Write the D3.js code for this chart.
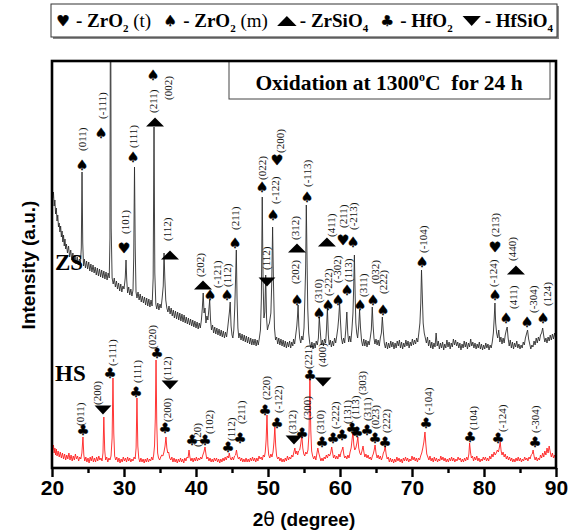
<!DOCTYPE html>
<html>
<head>
<meta charset="utf-8">
<script src="https://cdn.jsdelivr.net/npm/d3@7"></script>
<style>
body { margin: 0; background: #fff; }
</style>
</head>
<body>
<div id="chart"></div>
<script>
// frame size
const WIDTH = 579;
const HEIGHT = 532;
const MARGINS = {left: 52, right: 23, top: 61, bottom: 64};

// axis ticks
const MAJOR_TICKS = [20, 30, 40, 50, 60, 70, 80, 90];
const MINOR_TICKS = [25, 35, 45, 55, 65, 75, 85];

// ZS pattern (2theta, intensity a.u.)
const ZS_DATA = [[20.0,2830],[20.1,2700],[20.2,2760],[20.3,2620],[20.4,2680],[20.5,2540],[20.6,2600],[20.7,2470],[20.8,2530],[20.9,2410],[21.0,2450],[21.1,2360],[21.2,2420],[21.3,2310],[21.4,2370],[21.5,2260],[21.6,2330],[21.7,2220],[21.8,2290],[21.9,2190],[22.0,2240],[22.15,2150],[22.3,2220],[22.45,2110],[22.6,2180],[22.75,2080],[22.9,2150],[23.05,2060],[23.2,2130],[23.35,2040],[23.5,2110],[23.65,2030],[23.8,2090],[23.95,2050],[24.07,2200],[24.17,2960],[24.27,2250],[24.38,2020],[24.5,2090],[24.65,2000],[24.8,2070],[24.95,1990],[25.1,2060],[25.25,1970],[25.4,2040],[25.55,1960],[25.7,2030],[25.85,1950],[26.0,2010],[26.15,1930],[26.3,2000],[26.45,1920],[26.6,1990],[26.75,1910],[26.9,1980],[27.05,1900],[27.2,1970],[27.35,1890],[27.5,1960],[27.65,1880],[27.8,1950],[27.95,1900],[28.05,2300],[28.13,5600],[28.22,2400],[28.35,1900],[28.5,1840],[28.65,1900],[28.8,1810],[28.95,1870],[29.1,1790],[29.25,1850],[29.4,1770],[29.55,1840],[29.7,1760],[29.85,1820],[30.0,1790],[30.17,1900],[30.28,2080],[30.38,1880],[30.5,1750],[30.65,1810],[30.8,1730],[30.95,1790],[31.1,1720],[31.25,1780],[31.35,2100],[31.46,3010],[31.56,2200],[31.67,1760],[31.8,1700],[31.95,1760],[32.1,1680],[32.25,1740],[32.4,1660],[32.55,1720],[32.7,1650],[32.85,1710],[33.0,1630],[33.15,1700],[33.3,1620],[33.45,1690],[33.6,1610],[33.75,1680],[33.9,1620],[34.05,1900],[34.17,3410],[34.28,1950],[34.42,1640],[34.55,1590],[34.7,1650],[34.85,1580],[35.0,1640],[35.15,1600],[35.3,1700],[35.45,1820],[35.56,2150],[35.67,1900],[35.8,1680],[35.95,1600],[36.1,1560],[36.25,1620],[36.4,1540],[36.55,1600],[36.7,1520],[36.85,1580],[37.0,1500],[37.15,1570],[37.3,1490],[37.45,1560],[37.6,1480],[37.75,1550],[37.9,1470],[38.05,1540],[38.2,1460],[38.35,1530],[38.5,1450],[38.65,1510],[38.8,1440],[38.95,1500],[39.1,1430],[39.25,1490],[39.4,1420],[39.55,1480],[39.7,1410],[39.85,1470],[40.0,1400],[40.15,1460],[40.3,1390],[40.45,1450],[40.6,1400],[40.75,1480],[40.88,1600],[41.0,1750],[41.12,1550],[41.25,1600],[41.38,1450],[41.52,1520],[41.65,1480],[41.78,1580],[41.9,1680],[42.02,1480],[42.15,1380],[42.3,1430],[42.45,1350],[42.6,1410],[42.75,1340],[42.9,1400],[43.05,1330],[43.2,1390],[43.35,1320],[43.5,1380],[43.65,1310],[43.8,1370],[43.95,1300],[44.1,1360],[44.25,1310],[44.4,1400],[44.52,1480],[44.64,1560],[44.75,1660],[44.87,1420],[45.0,1330],[45.12,1300],[45.25,1380],[45.38,1600],[45.5,1900],[45.6,2180],[45.7,1700],[45.82,1400],[45.95,1300],[46.1,1350],[46.25,1280],[46.4,1340],[46.55,1270],[46.7,1330],[46.85,1260],[47.0,1320],[47.15,1250],[47.3,1310],[47.45,1240],[47.6,1300],[47.75,1230],[47.9,1290],[48.05,1230],[48.2,1290],[48.35,1220],[48.5,1280],[48.65,1230],[48.8,1300],[48.95,1380],[49.08,1700],[49.2,2710],[49.32,1850],[49.44,1500],[49.56,1560],[49.68,1930],[49.8,1500],[49.92,1380],[50.05,1420],[50.2,1450],[50.4,1550],[50.52,1850],[50.64,2410],[50.76,1850],[50.9,1400],[51.05,1280],[51.2,1310],[51.35,1240],[51.5,1300],[51.65,1230],[51.8,1290],[51.95,1220],[52.1,1280],[52.25,1210],[52.4,1270],[52.55,1200],[52.7,1260],[52.85,1210],[53.0,1270],[53.15,1200],[53.3,1260],[53.45,1220],[53.55,1290],[53.7,1240],[53.85,1330],[54.0,1420],[54.1,1520],[54.18,1630],[54.28,1420],[54.4,1300],[54.55,1250],[54.7,1320],[54.85,1280],[55.0,1400],[55.12,1700],[55.23,2000],[55.32,2630],[55.42,2100],[55.52,1600],[55.65,1350],[55.8,1250],[55.95,1200],[56.1,1260],[56.25,1190],[56.4,1250],[56.55,1200],[56.7,1270],[56.85,1230],[57.0,1300],[57.12,1510],[57.25,1380],[57.4,1230],[57.55,1280],[57.7,1220],[57.85,1290],[58.0,1250],[58.12,1380],[58.25,1600],[58.38,1330],[58.5,1230],[58.65,1280],[58.8,1210],[58.95,1270],[59.1,1220],[59.25,1300],[59.4,1250],[59.55,1320],[59.7,1400],[59.82,1500],[59.95,1650],[60.08,1450],[60.2,1300],[60.35,1240],[60.5,1300],[60.65,1250],[60.8,1380],[60.95,1560],[61.08,1350],[61.2,1260],[61.35,1320],[61.5,1260],[61.65,1380],[61.8,1550],[61.9,1800],[62.0,2130],[62.1,1750],[62.2,1450],[62.32,1350],[62.45,1300],[62.6,1420],[62.72,1580],[62.85,1400],[63.0,1270],[63.15,1220],[63.3,1290],[63.45,1220],[63.6,1280],[63.75,1210],[63.9,1270],[64.05,1230],[64.2,1300],[64.35,1380],[64.48,1610],[64.6,1420],[64.72,1300],[64.85,1240],[65.0,1290],[65.15,1230],[65.3,1280],[65.45,1220],[65.6,1300],[65.75,1350],[65.88,1510],[66.0,1380],[66.15,1250],[66.3,1200],[66.45,1260],[66.6,1190],[66.75,1250],[66.9,1200],[67.05,1270],[67.2,1210],[67.35,1260],[67.5,1190],[67.65,1250],[67.8,1200],[67.95,1270],[68.1,1220],[68.25,1280],[68.4,1200],[68.55,1260],[68.7,1190],[68.85,1250],[69.0,1210],[69.15,1280],[69.3,1220],[69.45,1270],[69.6,1200],[69.75,1260],[69.9,1220],[70.05,1290],[70.2,1230],[70.35,1280],[70.5,1240],[70.65,1300],[70.8,1260],[70.95,1350],[71.1,1450],[71.22,1650],[71.32,1980],[71.42,1750],[71.55,1450],[71.7,1350],[71.85,1300],[72.0,1250],[72.15,1310],[72.3,1220],[72.45,1280],[72.6,1200],[72.75,1260],[72.9,1190],[73.05,1250],[73.2,1210],[73.35,1350],[73.5,1220],[73.65,1270],[73.8,1190],[73.95,1250],[74.1,1200],[74.25,1260],[74.4,1180],[74.55,1240],[74.7,1200],[74.85,1280],[75.0,1210],[75.15,1260],[75.3,1190],[75.45,1250],[75.6,1210],[75.75,1290],[75.9,1230],[76.05,1280],[76.2,1220],[76.35,1260],[76.5,1200],[76.65,1250],[76.8,1180],[76.95,1240],[77.1,1200],[77.25,1270],[77.4,1210],[77.55,1260],[77.7,1190],[77.85,1250],[78.0,1210],[78.15,1290],[78.3,1220],[78.45,1260],[78.6,1200],[78.75,1250],[78.9,1190],[79.05,1240],[79.2,1200],[79.35,1260],[79.5,1190],[79.65,1240],[79.8,1180],[79.95,1230],[80.1,1190],[80.25,1250],[80.4,1200],[80.55,1240],[80.7,1180],[80.85,1230],[81.0,1200],[81.15,1260],[81.3,1350],[81.42,1500],[81.52,1650],[81.62,1450],[81.75,1350],[81.9,1300],[82.05,1380],[82.2,1260],[82.35,1310],[82.5,1240],[82.65,1300],[82.8,1250],[82.95,1330],[83.1,1380],[83.22,1410],[83.35,1300],[83.5,1220],[83.65,1280],[83.8,1200],[83.95,1260],[84.1,1190],[84.25,1250],[84.4,1210],[84.55,1270],[84.7,1200],[84.85,1240],[85.0,1190],[85.15,1230],[85.3,1200],[85.45,1260],[85.6,1230],[85.75,1300],[85.9,1340],[86.05,1380],[86.2,1290],[86.35,1240],[86.5,1190],[86.65,1230],[86.8,1210],[86.95,1270],[87.1,1230],[87.25,1300],[87.4,1250],[87.55,1310],[87.7,1270],[87.85,1330],[88.0,1350],[88.15,1400],[88.3,1320],[88.45,1260],[88.6,1300],[88.75,1250],[88.9,1310],[89.05,1270],[89.2,1330],[89.35,1280],[89.5,1340],[89.65,1290],[89.8,1350],[89.95,1300],[90.0,1310]];

// HS pattern (2theta, intensity a.u.)
const HS_DATA = [[20.0,260],[20.1,180],[20.2,230],[20.3,150],[20.4,200],[20.5,130],[20.6,190],[20.7,120],[20.85,170],[21.0,110],[21.15,160],[21.3,100],[21.45,150],[21.6,90],[21.75,140],[21.9,80],[22.05,130],[22.2,90],[22.35,150],[22.5,80],[22.65,130],[22.8,70],[22.95,120],[23.1,80],[23.25,140],[23.4,90],[23.55,120],[23.7,70],[23.85,110],[24.0,90],[24.15,150],[24.3,310],[24.42,130],[24.55,70],[24.7,110],[24.85,60],[25.0,100],[25.15,50],[25.3,110],[25.45,70],[25.6,120],[25.75,60],[25.9,100],[26.05,60],[26.2,110],[26.35,70],[26.5,120],[26.65,80],[26.8,100],[26.95,70],[27.08,150],[27.2,510],[27.32,180],[27.45,80],[27.6,110],[27.75,60],[27.9,100],[28.05,80],[28.2,120],[28.35,300],[28.47,900],[28.58,350],[28.7,120],[28.85,80],[29.0,110],[29.15,60],[29.3,100],[29.45,50],[29.6,90],[29.75,60],[29.9,110],[30.05,70],[30.2,100],[30.35,60],[30.5,110],[30.65,70],[30.8,100],[30.95,60],[31.1,90],[31.25,70],[31.4,110],[31.55,90],[31.68,200],[31.8,700],[31.92,220],[32.05,100],[32.2,60],[32.35,100],[32.5,60],[32.65,90],[32.8,50],[32.95,90],[33.1,60],[33.25,100],[33.4,60],[33.55,90],[33.7,70],[33.85,110],[34.0,80],[34.12,130],[34.24,220],[34.35,500],[34.45,1080],[34.55,450],[34.67,150],[34.8,100],[34.95,80],[35.1,110],[35.25,130],[35.4,120],[35.55,160],[35.7,220],[35.83,310],[35.95,200],[36.08,150],[36.2,160],[36.35,100],[36.5,80],[36.65,110],[36.8,60],[36.95,100],[37.1,60],[37.25,90],[37.4,50],[37.55,90],[37.7,60],[37.85,100],[38.0,60],[38.15,90],[38.3,50],[38.45,100],[38.6,70],[38.75,110],[38.9,100],[39.03,180],[39.15,110],[39.3,70],[39.45,100],[39.6,60],[39.75,100],[39.9,70],[40.05,110],[40.2,70],[40.35,100],[40.5,80],[40.65,110],[40.8,90],[40.95,130],[41.1,160],[41.25,210],[41.38,140],[41.5,90],[41.65,110],[41.8,70],[41.95,100],[42.1,60],[42.25,90],[42.4,60],[42.55,100],[42.7,70],[42.85,100],[43.0,60],[43.15,90],[43.3,50],[43.45,90],[43.6,60],[43.75,100],[43.9,70],[44.05,110],[44.2,80],[44.35,120],[44.5,100],[44.62,150],[44.75,100],[44.9,80],[45.05,110],[45.2,80],[45.35,120],[45.5,130],[45.62,180],[45.75,120],[45.9,90],[46.05,110],[46.2,70],[46.35,100],[46.5,60],[46.65,90],[46.8,60],[46.95,100],[47.1,60],[47.25,90],[47.4,60],[47.55,100],[47.7,70],[47.85,110],[48.0,70],[48.15,100],[48.3,60],[48.45,100],[48.6,70],[48.75,120],[48.9,90],[49.05,110],[49.2,80],[49.35,130],[49.5,110],[49.62,160],[49.74,280],[49.86,530],[49.98,230],[50.1,130],[50.25,100],[50.4,140],[50.55,110],[50.7,160],[50.83,260],[50.95,410],[51.07,220],[51.2,120],[51.35,90],[51.5,110],[51.65,70],[51.8,100],[51.95,60],[52.1,90],[52.25,60],[52.4,100],[52.55,70],[52.7,120],[52.85,80],[53.0,110],[53.15,90],[53.3,130],[53.45,110],[53.6,160],[53.73,200],[53.86,140],[54.0,170],[54.12,130],[54.25,170],[54.4,180],[54.55,240],[54.7,330],[54.83,200],[54.97,140],[55.1,120],[55.25,160],[55.4,140],[55.55,180],[55.7,350],[55.82,910],[55.94,380],[56.06,170],[56.2,120],[56.35,90],[56.5,120],[56.65,80],[56.8,150],[56.92,200],[57.05,150],[57.2,110],[57.35,70],[57.5,100],[57.65,70],[57.8,110],[57.95,90],[58.1,130],[58.25,100],[58.4,140],[58.55,120],[58.7,150],[58.85,210],[58.98,150],[59.1,100],[59.25,130],[59.4,90],[59.55,120],[59.7,90],[59.85,140],[60.0,110],[60.15,160],[60.28,180],[60.4,210],[60.52,140],[60.65,100],[60.8,120],[60.95,90],[61.1,130],[61.25,100],[61.4,160],[61.55,200],[61.67,280],[61.8,360],[61.92,230],[62.05,180],[62.2,200],[62.35,250],[62.48,310],[62.6,200],[62.75,150],[62.9,130],[63.05,170],[63.2,220],[63.32,160],[63.45,110],[63.6,140],[63.75,100],[63.9,130],[64.05,90],[64.2,110],[64.35,80],[64.5,120],[64.62,140],[64.75,180],[64.87,230],[65.0,150],[65.15,100],[65.3,130],[65.45,90],[65.6,120],[65.75,80],[65.9,110],[66.02,150],[66.15,170],[66.28,220],[66.4,140],[66.55,90],[66.7,110],[66.85,60],[67.0,100],[67.15,60],[67.3,90],[67.45,50],[67.6,90],[67.75,60],[67.9,110],[68.05,70],[68.2,100],[68.35,60],[68.5,90],[68.65,50],[68.8,100],[68.95,70],[69.1,110],[69.25,70],[69.4,100],[69.55,60],[69.7,90],[69.85,70],[70.0,120],[70.15,80],[70.3,110],[70.45,70],[70.6,100],[70.75,60],[70.9,100],[71.05,80],[71.2,120],[71.35,150],[71.5,200],[71.65,260],[71.8,360],[71.92,240],[72.05,140],[72.2,110],[72.35,80],[72.5,120],[72.65,70],[72.8,100],[72.95,60],[73.1,110],[73.25,70],[73.4,100],[73.55,60],[73.7,90],[73.85,70],[74.0,120],[74.15,80],[74.3,110],[74.45,70],[74.6,100],[74.75,60],[74.9,90],[75.05,60],[75.2,100],[75.35,70],[75.5,110],[75.65,70],[75.8,100],[75.95,60],[76.1,90],[76.25,70],[76.4,110],[76.55,80],[76.7,100],[76.85,60],[77.0,90],[77.15,60],[77.3,100],[77.45,70],[77.6,110],[77.75,80],[77.9,140],[78.0,250],[78.12,160],[78.25,100],[78.4,120],[78.55,70],[78.7,110],[78.85,80],[79.0,120],[79.15,70],[79.3,100],[79.45,60],[79.6,90],[79.75,70],[79.9,110],[80.05,80],[80.2,110],[80.35,70],[80.5,100],[80.65,70],[80.8,120],[80.95,90],[81.1,140],[81.25,110],[81.4,160],[81.55,130],[81.7,150],[81.85,180],[82.0,160],[82.12,200],[82.25,260],[82.38,170],[82.5,130],[82.65,160],[82.8,110],[82.95,140],[83.1,90],[83.25,120],[83.4,80],[83.55,110],[83.7,70],[83.85,100],[84.0,60],[84.15,90],[84.3,60],[84.45,100],[84.6,70],[84.75,110],[84.9,70],[85.05,100],[85.2,60],[85.35,90],[85.5,70],[85.65,110],[85.8,80],[85.95,100],[86.1,70],[86.25,110],[86.4,90],[86.55,130],[86.7,140],[86.82,180],[86.95,120],[87.1,80],[87.25,110],[87.4,70],[87.55,100],[87.7,80],[87.85,130],[88.0,100],[88.15,150],[88.3,110],[88.45,170],[88.6,130],[88.75,200],[88.9,150],[89.05,220],[89.2,160],[89.35,110],[89.5,150],[89.65,100],[89.8,130],[89.95,90],[90.0,100]];

// peak marks: [symbol, 2theta, level, hkl label, label 2theta, label base level]
const ZS_MARKS = [
	["spade", 24.17, 3030, "(011)", 24.17, 3170],
	["spade", 26.81, 3350, "(-111)", 26.94, 3490],
	["heart", 30.0, 2200, "(101)", 30.14, 2340],
	["spade", 31.25, 3110, "(111)", 31.25, 3200],
	["tri", 34.31, 3460, "(211)", 34.03, 3550],
	["spade", 34.03, 3930, "(002)", 36.11, 3680],
	["tri", 36.39, 2130, "(112)", 35.97, 2270],
	["tri", 40.97, 1830, "(202)", 40.56, 1910],
	["spade", 41.94, 1730, "(-121)", 42.92, 1800],
	["spade", 44.31, 1730, "(112)", 44.31, 1810],
	["spade", 45.42, 2250, "(211)", 45.42, 2380],
	["spade", 49.17, 2810, "(022)", 49.17, 2880],
	["tridown", 49.86, 1860, "(112)", 49.72, 1980],
	["spade", 50.69, 2530, "(-122)", 50.97, 2640],
	["heart", 51.25, 3080, "(200)", 51.67, 3150],
	["tri", 54.03, 2200, "(312)", 53.75, 2280],
	["spade", 54.03, 1680, "(202)", 53.75, 1840],
	["spade", 55.42, 2710, "(-113)", 55.42, 2810],
	["spade", 57.08, 1550, "(310)", 56.94, 1650],
	["spade", 58.33, 1630, "(-222)", 58.33, 1720],
	["tri", 58.19, 2260, "(411)", 58.75, 2310],
	["spade", 59.72, 1680, "(-302)", 59.58, 1850],
	["heart", 60.42, 2280, "(211)", 60.42, 2400],
	["spade", 61.81, 2260, "(-213)", 61.81, 2380],
	["spade", 60.97, 1780, "(113)", 61.11, 1860],
	["spade", 62.78, 1630, "(311)", 63.19, 1710],
	["spade", 64.58, 1680, "(032)", 64.86, 1840],
	["spade", 65.97, 1580, "(222)", 65.97, 1740],
	["spade", 71.39, 2060, "(-104)", 71.53, 2150],
	["spade", 81.53, 1730, "(-124)", 81.25, 1810],
	["heart", 81.53, 2210, "(213)", 81.53, 2310],
	["tri", 84.44, 1980, "(440)", 83.89, 2070],
	["spade", 83.06, 1500, "(411)", 84.03, 1590],
	["spade", 85.97, 1460, "(-304)", 86.81, 1550],
	["spade", 88.19, 1500, "(124)", 88.75, 1620]
];

const HS_MARKS = [
	["club", 24.31, 380, "(011)", 23.89, 420],
	["tridown", 27.08, 580, "(200)", 26.25, 630],
	["club", 28.06, 950, "(-111)", 28.33, 1020],
	["club", 31.67, 760, "(111)", 31.81, 850],
	["club", 34.58, 1150, "(020)", 33.89, 1190],
	["tridown", 36.39, 830, "(112)", 35.97, 880],
	["club", 35.69, 400, "(200)", 35.97, 460],
	["club", 39.44, 280, "(120)", 40.14, 210],
	["club", 41.25, 280, "(102)", 41.81, 340],
	["club", 44.44, 210, "(112)", 44.86, 270],
	["club", 46.11, 300, "(211)", 46.25, 440],
	["club", 49.58, 580, "(220)", 49.72, 680],
	["club", 51.25, 450, "(-122)", 51.39, 550],
	["tridown", 53.61, 280, "(312)", 53.33, 340],
	["club", 54.72, 350, "(300)", 55.42, 480],
	["club", 55.83, 930, "(221)", 55.56, 990],
	["tridown", 57.64, 860, "(400)", 57.5, 1010],
	["club", 57.5, 260, "(310)", 57.22, 340],
	["club", 59.03, 300, "(-222)", 59.31, 390],
	["club", 60.28, 330, "(131)", 60.97, 440],
	["club", 61.67, 400, "(113)", 62.08, 490],
	["club", 62.36, 360, "(303)", 63.06, 730],
	["club", 63.75, 380, "(311)", 63.75, 470],
	["club", 64.86, 300, "(023)", 64.86, 390],
	["club", 66.25, 260, "(222)", 66.39, 350],
	["club", 71.94, 450, "(-104)", 72.22, 530],
	["club", 78.06, 310, "(104)", 78.47, 380],
	["club", 81.94, 300, "(-124)", 82.5, 360],
	["club", 87.08, 260, "(-304)", 87.08, 350]
];

// legend entries
const LEGEND_SYMBOLS = ["heart", "spade", "tri", "club", "tridown"];
const LEGEND_LABELS = [
	[["- ZrO", "b"], ["2", "s"], [" (t)", "r"]],
	[["- ZrO", "b"], ["2", "s"], [" (m)", "r"]],
	[["- ZrSiO", "b"], ["4", "s"]],
	[["- HfO", "b"], ["2", "s"]],
	[["- HfSiO", "b"], ["4", "s"]]
];

const SERIES_NAMES = ["ZS", "HS"];
const SERIES_LEVELS = [1980, 870];

const GLYPHS = {heart: "\u2665", spade: "\u2660", club: "\u2663"};
const SERIF = "'Liberation Serif', 'Times New Roman', serif";
const SANS = "'Liberation Sans', Arial, sans-serif";

const SVG = d3.select("#chart")
				.append("svg")
					.attr("width", WIDTH)
					.attr("height", HEIGHT)
					.style("background", "#fff");

const X_SCALE = d3.scaleLinear()
					.domain([20, 90])
					.range([MARGINS.left, WIDTH - MARGINS.right]);
const Y_SCALE = d3.scaleLinear()
					.domain([0, 4070])
					.range([HEIGHT - MARGINS.bottom, MARGINS.top]);

// draw one symbol centred on (x, y)
function drawSymbol(g, sym, x, y, size) {
	if (sym === "tri") {
		g.append("path")
			.attr("d", "M" + (x - size * 0.75) + "," + (y + size * 0.38) + "L" + x + "," + (y - size * 0.38) + "L" + (x + size * 0.75) + "," + (y + size * 0.38) + "Z")
			.attr("fill", "#000");
	} else if (sym === "tridown") {
		g.append("path")
			.attr("d", "M" + (x - size * 0.7) + "," + (y - size * 0.38) + "L" + (x + size * 0.7) + "," + (y - size * 0.38) + "L" + x + "," + (y + size * 0.38) + "Z")
			.attr("fill", "#000");
	} else {
		g.append("text")
			.attr("x", x)
			.attr("y", y)
			.attr("dy", "0.36em")
			.attr("text-anchor", "middle")
			.attr("font-family", "'DejaVu Sans', sans-serif")
			.attr("font-size", size + 2)
			.attr("stroke", "#000")
			.attr("stroke-width", 0.4)
			.text(GLYPHS[sym]);
	}
}

// clip for the patterns
SVG.append("clipPath")
	.attr("id", "plot-clip")
	.append("rect")
		.attr("x", MARGINS.left)
		.attr("y", MARGINS.top)
		.attr("width", WIDTH - MARGINS.left - MARGINS.right)
		.attr("height", HEIGHT - MARGINS.top - MARGINS.bottom);

const LINE = d3.line()
				.x((d) => {return X_SCALE(d[0]);})
				.y((d) => {return Y_SCALE(d[1]);});

SVG.append("path")
	.datum(ZS_DATA)
	.attr("d", LINE)
	.attr("clip-path", "url(#plot-clip)")
	.attr("fill", "none")
	.attr("stroke", "#2e2e2e")
	.attr("stroke-width", 0.9);

SVG.append("path")
	.datum(HS_DATA)
	.attr("d", LINE)
	.attr("clip-path", "url(#plot-clip)")
	.attr("fill", "none")
	.attr("stroke", "#ff1f1f")
	.attr("stroke-width", 0.9);

// peak annotations
const MARK_LAYER = SVG.append("g");
[ZS_MARKS, HS_MARKS].forEach((marks) => {
	marks.forEach((m) => {
		drawSymbol(MARK_LAYER, m[0], X_SCALE(m[1]), Y_SCALE(m[2]), 12);
		MARK_LAYER.append("text")
			.attr("transform", "translate(" + X_SCALE(m[4]) + "," + Y_SCALE(m[5]) + ") rotate(-90)")
			.attr("dy", "0.34em")
			.attr("font-family", SERIF)
			.attr("font-size", 11)
			.attr("fill", "#111")
			.text(m[3]);
	});
});

// series names
SERIES_NAMES.forEach((name, i) => {
	SVG.append("text")
		.attr("x", X_SCALE(20) + 3)
		.attr("y", Y_SCALE(SERIES_LEVELS[i]))
		.attr("font-family", SERIF)
		.attr("font-weight", "bold")
		.attr("font-size", 23)
		.text(name);
});

// title box
SVG.append("rect")
	.attr("x", 229)
	.attr("y", MARGINS.top)
	.attr("width", 321)
	.attr("height", 38)
	.attr("fill", "#fff")
	.attr("stroke", "#444")
	.attr("stroke-width", 1);
const TITLE = SVG.append("text")
				.attr("x", 389)
				.attr("y", 90)
				.attr("text-anchor", "middle")
				.attr("font-family", SERIF)
				.attr("font-weight", "bold")
				.attr("font-size", 21.5);
TITLE.append("tspan").text("Oxidation at 1300");
TITLE.append("tspan").attr("dy", -9).attr("font-size", 12).text("o");
TITLE.append("tspan").attr("dy", 9).text("C\u00a0\u00a0for 24 h");

// frame
SVG.append("rect")
	.attr("x", MARGINS.left)
	.attr("y", MARGINS.top)
	.attr("width", WIDTH - MARGINS.left - MARGINS.right)
	.attr("height", HEIGHT - MARGINS.top - MARGINS.bottom)
	.attr("fill", "none")
	.attr("stroke", "#000")
	.attr("stroke-width", 2.6);

// x-axis major and minor ticks
const X_AXIS = SVG.append("g")
				.attr("transform", "translate(0," + (HEIGHT - MARGINS.bottom) + ")")
				.call(d3.axisBottom(X_SCALE).tickValues(MAJOR_TICKS).tickSize(9).tickPadding(3).tickFormat(d3.format("d")));
X_AXIS.select(".domain").remove();
X_AXIS.selectAll("line").attr("stroke-width", 2.4);
X_AXIS.selectAll("text")
	.attr("font-family", SANS)
	.attr("font-weight", "bold")
	.attr("font-size", 21)
	.attr("fill", "#000");

const X_MINOR = SVG.append("g")
				.attr("transform", "translate(0," + (HEIGHT - MARGINS.bottom) + ")")
				.call(d3.axisBottom(X_SCALE).tickValues(MINOR_TICKS).tickSize(5).tickFormat(""));
X_MINOR.select(".domain").remove();
X_MINOR.selectAll("line").attr("stroke-width", 2.4);

// axis titles
const X_TITLE = SVG.append("text")
					.attr("x", (MARGINS.left + WIDTH - MARGINS.right) / 2)
					.attr("y", 526)
					.attr("text-anchor", "middle")
					.attr("font-family", SANS)
					.attr("font-weight", "bold")
					.attr("font-size", 19);
X_TITLE.append("tspan").text("2");
X_TITLE.append("tspan").attr("font-family", "'DejaVu Sans', sans-serif").attr("font-weight", "normal").text("\u03b8");
X_TITLE.append("tspan").text(" (degree)");

SVG.append("text")
	.attr("transform", "translate(28,265) rotate(-90)")
	.attr("dy", "0.35em")
	.attr("text-anchor", "middle")
	.attr("font-family", SANS)
	.attr("font-weight", "bold")
	.attr("font-size", 19)
	.text("Intensity (a.u.)");

// legend box
SVG.append("rect")
	.attr("x", 53)
	.attr("y", 6)
	.attr("width", 506)
	.attr("height", 33)
	.attr("fill", "#888");
SVG.append("rect")
	.attr("x", 51)
	.attr("y", 4)
	.attr("width", 506)
	.attr("height", 33)
	.attr("fill", "#fff")
	.attr("stroke", "#333")
	.attr("stroke-width", 1);

// legend items: measure first, then spread across the box
const LEGEND = SVG.append("g");
const legendTexts = LEGEND_SYMBOLS.map((sym, i) => {
	const t = LEGEND.append("text")
				.attr("y", 27)
				.attr("font-family", SERIF)
				.attr("font-size", 19);
	LEGEND_LABELS[i].forEach((seg) => {
		const ts = t.append("tspan").text(seg[0]);
		if (seg[1] === "b") { ts.attr("font-weight", "bold"); }
		if (seg[1] === "s") { ts.attr("font-weight", "bold").attr("font-size", 11).attr("dy", 5); }
		if (seg[1] === "r") { ts.attr("dy", -5); }
	});
	return t;
});
const SYM_W = 20;
const widths = legendTexts.map((t) => {return SYM_W + t.node().getComputedTextLength();});
const LEG_START = 56, LEG_END = 553;
const gap = (LEG_END - LEG_START - d3.sum(widths)) / (widths.length - 1);
let cursor = LEG_START;
LEGEND_SYMBOLS.forEach((sym, i) => {
	drawSymbol(LEGEND, sym, cursor + 7, 21, 13);
	legendTexts[i].attr("x", cursor + SYM_W);
	cursor += widths[i] + gap;
});
</script>
</body>
</html>
